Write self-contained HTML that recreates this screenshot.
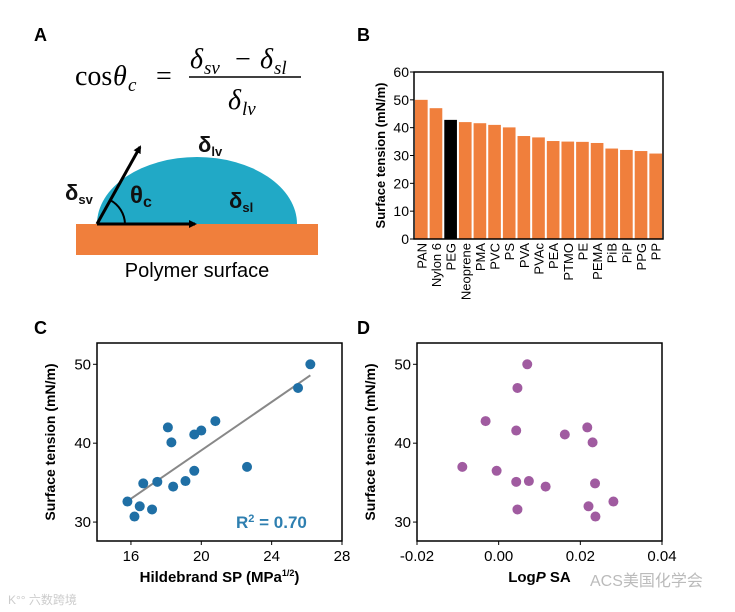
<!DOCTYPE html>
<html><head><meta charset="utf-8"><style>
html,body{margin:0;padding:0;background:#fff;}
svg{display:block;font-family:"Liberation Sans","Noto Sans CJK SC",sans-serif;}
</style></head><body>
<svg id="fig" width="735" height="612" viewBox="0 0 735 612" xmlns="http://www.w3.org/2000/svg">
<defs><marker id="ah" markerWidth="8" markerHeight="8" refX="6" refY="4" orient="auto" markerUnits="userSpaceOnUse"><path d="M0,0 L8,4 L0,8 Z" fill="#000"/></marker></defs>
<g>
<text x="34" y="41" font-size="18" font-weight="bold">A</text>
<g font-family="'Liberation Serif',serif" font-style="italic" font-size="28">
<text x="75" y="85" font-style="normal">cos</text><text x="113" y="85">θ</text><text x="128" y="91" font-size="19">c</text>
<text x="156" y="85" font-style="normal">=</text>
<text x="190" y="68">δ</text><text x="204" y="74" font-size="19">sv</text><text x="235" y="68" font-style="normal">−</text><text x="260" y="68">δ</text><text x="274" y="74" font-size="19">sl</text>
<line x1="189" y1="77" x2="301" y2="77" stroke="#000" stroke-width="1.5"/>
<text x="228" y="109">δ</text><text x="242" y="115" font-size="19">lv</text>
</g>
<rect x="76" y="224" width="242" height="31" fill="#f07f3c"/>
<path d="M97,224 A100,67 0 0 1 297,224 Z" fill="#21a9c6"/>
<line x1="97" y1="224" x2="140" y2="147" stroke="#000" stroke-width="3" marker-end="url(#ah)"/>
<line x1="97" y1="224" x2="195" y2="224" stroke="#000" stroke-width="3" marker-end="url(#ah)"/>
<path d="M125,224 A28,28 0 0 0 110,200" fill="none" stroke="#000" stroke-width="2"/>
<g font-weight="bold" fill="#111">
<text x="198" y="152" font-size="22">δ<tspan font-size="13" dy="4">lv</tspan></text>
<text x="65" y="200" font-size="22">δ<tspan font-size="13" dy="4">sv</tspan></text>
<text x="130" y="203" font-size="24">θ<tspan font-size="16" dy="4">c</tspan></text>
<text x="229" y="208" font-size="22">δ<tspan font-size="13" dy="4">sl</tspan></text>
</g>
<text x="197" y="277" font-size="20" text-anchor="middle">Polymer surface</text>
</g>
<text x="357" y="41" font-size="18" font-weight="bold">B</text>
<text x="34" y="334" font-size="18" font-weight="bold">C</text>
<text x="357" y="334" font-size="18" font-weight="bold">D</text>
<g id="pb"></g><g id="pc"></g><g id="pd"></g>
<text x="8" y="604" font-size="12" fill="#ccc">K°° 六数跨境</text>
<text x="590" y="586" font-size="16" fill="#bbb">ACS美国化学会</text>
</svg>
<script>
const barNames=["PAN","Nylon 6","PEG","Neoprene","PMA","PVC","PS","PVA","PVAc","PEA","PTMO","PE","PEMA","PiB","PiP","PPG","PP"];
const barValues=[50,47,42.8,42,41.6,41,40.1,37,36.5,35.2,35,34.9,34.5,32.5,32,31.6,30.7];
const bTicks=[0,10,20,30,40,50,60];
const cX=[26.2,25.5,20.8,18.1,20,19.6,18.3,22.6,19.6,19.1,17.5,16.7,18.4,15.8,16.5,17.2,16.2];
const cY=[50,47,42.8,42,41.6,41.1,40.1,37,36.5,35.2,35.1,34.9,34.5,32.6,32,31.6,30.7];
const cFitX=[15.9,26.2];
const cFitY=[32.8,48.6];
const cXTicks=[16,20,24,28];
const dX=[0.007,0.0046,-0.0032,0.0043,0.0162,0.0217,0.023,-0.0089,-0.0005,0.0043,0.0074,0.0115,0.0236,0.0281,0.022,0.0046,0.0237];
const dY=[50,47,42.8,41.6,41.1,42,40.1,37,36.5,35.1,35.2,34.5,34.9,32.6,32,31.6,30.7];
const dXTicks=[-0.02,0,0.02,0.04];
const dXLabels=["-0.02","0.00","0.02","0.04"];
const yTicksCD=[30,40,50];
const NS="http://www.w3.org/2000/svg";
function mk(p,t,a,txt){const e=document.createElementNS(NS,t);for(const k in a)e.setAttribute(k,a[k]);if(txt!==undefined)e.textContent=txt;p.appendChild(e);return e;}
(function(){
const g=document.getElementById('pb');
const L=414,R=663,T=72,B=239;
const y=v=>B-(v/60)*(B-T);
const step=(R-L)/barNames.length;
barValues.forEach((v,i)=>{
 const r=mk(g,'rect',{x:L+i*step+1,y:y(v),width:step-2,height:B-y(v),fill:barNames[i]==="PEG"?"#000":"#f07f3c"});
 
 
 const t=mk(g,'text',{x:0,y:0,'font-size':13,'text-anchor':'end',transform:`translate(${L+i*step+step/2+5},${B+4}) rotate(-90)`},barNames[i]);
 
 
});
mk(g,'rect',{x:L,y:T,width:R-L,height:B-T,fill:'none',stroke:'#000','stroke-width':1.5});
bTicks.forEach(v=>{mk(g,'line',{x1:L-4,x2:L,y1:y(v),y2:y(v),stroke:'#000'});
 const t=mk(g,'text',{x:L-5,y:y(v)+5,'font-size':14,'text-anchor':'end'},v);
 
 });
const yt=mk(g,'text',{x:0,y:0,'font-size':13,'font-weight':'bold','text-anchor':'middle',transform:`translate(385,${(T+B)/2}) rotate(-90)`},'Surface tension (mN/m)');


})();
function scatter(id,L,R,xmin,xmax,xs,ys,color,xt,xl,xtitle){
 const g=document.getElementById(id);
 const T=343,B=541;
 const x=v=>L+(v-xmin)/(xmax-xmin)*(R-L);
 const y=v=>B-(v-27.6)/(52.7-27.6)*(B-T);
 mk(g,'rect',{x:L,y:T,width:R-L,height:B-T,fill:'none',stroke:'#000','stroke-width':1.5});
 xt.forEach((v,i)=>{mk(g,'line',{x1:x(v),x2:x(v),y1:B,y2:B+4,stroke:'#000'});
  const t=mk(g,'text',{x:x(v),y:B+20,'font-size':15,'text-anchor':'middle'},xl[i]);
  
  });
 yTicksCD.forEach(v=>{mk(g,'line',{x1:L-4,x2:L,y1:y(v),y2:y(v),stroke:'#000'});
  const t=mk(g,'text',{x:L-6,y:y(v)+5,'font-size':15,'text-anchor':'end'},v);
  
  });
 const yt=mk(g,'text',{x:0,y:0,'font-size':14,'font-weight':'bold','text-anchor':'middle',transform:`translate(${L-42},${(T+B)/2}) rotate(-90)`},'Surface tension (mN/m)');
 
 
 const xtt=mk(g,'text',{x:(L+R)/2,y:B+41,'font-size':15,'font-weight':'bold','text-anchor':'middle'});
 xtt.innerHTML=xtitle;
 
 
 return {g,x,y};
}
(function(){
 const s=scatter('pc',97,342,14.07,28,cX,cY,'#1f6fa5',cXTicks,cXTicks.map(String),'Hildebrand SP (MPa<tspan font-size="9" dy="-6">1/2</tspan><tspan dy="6">)</tspan>');
 const ln=mk(s.g,'line',{x1:s.x(cFitX[0]),y1:s.y(cFitY[0]),x2:s.x(cFitX[1]),y2:s.y(cFitY[1]),stroke:'#888','stroke-width':2});
 
 
 cX.forEach((v,i)=>{const c=mk(s.g,'circle',{cx:s.x(v),cy:s.y(cY[i]),r:5,fill:'#1f6fa5'});
  
  });
 const r=mk(s.g,'text',{x:236,y:528,'font-size':17,'font-weight':'bold',fill:'#2e7fb0'});
 r.innerHTML='R<tspan font-size="11" dy="-6">2</tspan><tspan dy="6"> = 0.70</tspan>';
 
 
})();
(function(){
 const s=scatter('pd',417,662,-0.02,0.04,dX,dY,'#a05ba0',dXTicks,dXLabels,'Log<tspan font-style="italic">P</tspan> SA');
 dX.forEach((v,i)=>{const c=mk(s.g,'circle',{cx:s.x(v),cy:s.y(dY[i]),r:5,fill:'#a05ba0'});
  
  });
})();
</script>
</body></html>
